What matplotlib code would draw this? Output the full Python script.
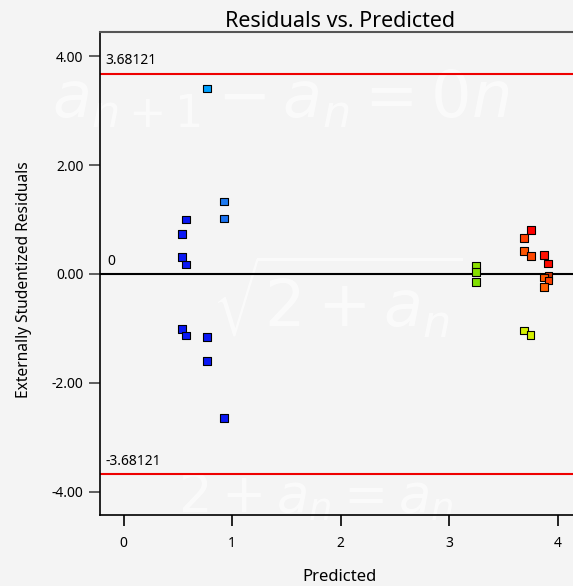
import matplotlib
matplotlib.use("Agg")
import matplotlib.pyplot as plt

plt.rcParams.update({
    "font.family": ["Noto Sans", "DejaVu Sans"],
    "mathtext.fontset": "dejavusans",
})

# residual diagnostics: predicted value vs. externally studentized residual
predicted = [0.767, 0.926, 0.926, 0.576, 0.536, 0.536, 0.576, 0.536, 0.576, 0.767, 0.767, 0.926,
             3.246, 3.246, 3.246, 3.691, 3.749,
             3.753, 3.691, 3.691, 3.753, 3.873, 3.910, 3.915, 3.873, 3.915, 3.873]
residuals = [3.41, 1.33, 1.017, 0.998, 0.730, 0.3125, 0.171, -1.006, -1.134, -1.153, -1.594, -2.647,
             0.153, 0.037, -0.142, -1.042, -1.121,
             0.809, 0.656, 0.428, 0.336, 0.349, 0.19, -0.037, -0.061, -0.123, -0.239]
point_colors = ["#00a0ff", "#1e7af0", "#1a72f0", "#0a18f5", "#0a18f5", "#0a18f5", "#0a18f5",
                "#0a18f5", "#0a18f5", "#0a18f5", "#0a18f5", "#0a18f5",
                "#8ce000", "#86e000", "#80e000", "#d4f000", "#d4f000",
                "#ff0000", "#ff4000", "#ff5500", "#ff4800", "#ff1000", "#ff0a00", "#c83000",
                "#ff5800", "#ff4000", "#ff6000"]

limit = 3.68121
y_ticks = [-4, -2, 0, 2, 4]
y_tick_labels = ["-4.00", "-2.00", "0.00", "2.00", "4.00"]
x_ticks = [0, 1, 2, 3, 4]
x_tick_labels = ["0", "1", "2", "3", "4"]

bg = "#f4f4f4"
fig = plt.figure(figsize=(5.73, 5.86), dpi=100, facecolor=bg)

# faint formula watermark behind the plot
wm = dict(color="white", alpha=0.6, style="italic", zorder=-1)
fig.text(0.09, 0.80, r"$a_{n+1} - a_n = 0n$", fontsize=46, **wm)
fig.text(0.37, 0.44, r"$\sqrt{2 + a_n}$", fontsize=46, **wm)
fig.text(0.31, 0.125, r"$2 + a_n = a_n$", fontsize=38, **wm)

ax = fig.add_axes([0.1745, 0.1212, 0.8255, 0.8237])
ax.set_facecolor("none")

ax.axhline(limit, color="#ee0000", lw=1.5, zorder=2)
ax.axhline(-limit, color="#ee0000", lw=1.5, zorder=2)
ax.axhline(0, color="black", lw=1.5, zorder=2)

ax.scatter(predicted, residuals, marker="s", s=30, c=point_colors,
           edgecolors="black", linewidths=0.8, zorder=3)

ax.text(-0.17, limit + 0.1, f"{limit:g}", fontsize=10, va="bottom", ha="left")
ax.text(-0.17, -limit + 0.1, f"{-limit:g}", fontsize=10, va="bottom", ha="left")
ax.text(-0.15, 0.1, "0", fontsize=10, va="bottom", ha="left")

ax.set_xlim(-0.218, 4.142)
ax.set_ylim(-4.43, 4.443)
ax.set_yticks(y_ticks)
ax.set_yticklabels(y_tick_labels)
ax.set_xticks(x_ticks)
ax.set_xticklabels(x_tick_labels)
ax.tick_params(axis="y", length=8, width=1.2, color="#444444", pad=4, labelsize=10)
ax.tick_params(axis="x", length=8, width=1.2, color="black", pad=7, labelsize=10)

ax.spines["right"].set_visible(False)
ax.spines["top"].set_color("#555555")
ax.spines["top"].set_linewidth(1.5)
ax.spines["left"].set_linewidth(1.2)
ax.spines["bottom"].set_linewidth(1.2)

ax.set_title("Residuals vs. Predicted", fontsize=15.5, pad=3, x=0.507)
fig.text(340 / 573, 1 - 577 / 586, "Predicted", fontsize=12, ha="center", va="center")
fig.text(24 / 573, 1 - 280 / 586, "Externally Studentized Residuals",
         fontsize=11.2, rotation=90, ha="center", va="center")

fig.savefig("out.png", dpi=100, facecolor=bg)
